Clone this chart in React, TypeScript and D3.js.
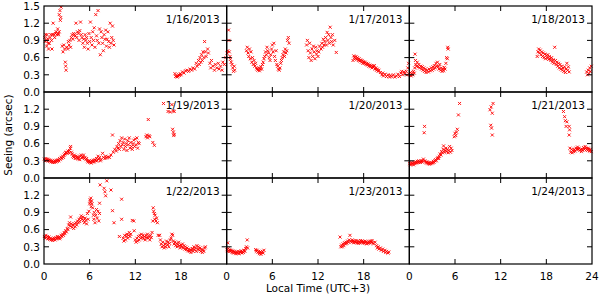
import React, { useEffect, useRef } from 'react';
import * as d3 from 'd3';

type Pt = [number, number];

// panel titles, in reading order
const dates = ['1/16/2013', '1/17/2013', '1/18/2013', '1/19/2013', '1/20/2013', '1/21/2013', '1/22/2013', '1/23/2013', '1/24/2013'];

// seeing [local hour, arcsec]
const jan16: Pt[] = [
  [0.1,0.95],[0.15,0.88],[0.2,1.0],[0.3,0.9],[0.35,0.8],[0.4,1.0],[0.5,0.93],[0.55,0.85],[0.6,0.75],[0.7,0.85],[0.8,0.95],[0.9,1.0],[1.0,0.9],[1.05,0.75],[1.1,1.0],[1.2,1.2],[1.3,1.0],[1.4,0.95],[1.5,1.02],[1.6,1.05],[1.7,1.0],[1.8,1.1],[1.85,1.02],[1.9,1.0],[2.0,1.05],[2.0,1.35],[2.1,1.42],[2.15,1.25],[2.2,1.3],[2.25,1.48],
  [2.4,0.8],[2.5,0.7],[2.6,0.82],[2.7,0.75],[2.8,0.52],[2.85,0.45],[2.9,0.38],[3.0,0.78],[3.1,0.75],
  [3.2,0.88],[3.3,0.82],[3.4,0.9],[3.5,0.78],[3.6,0.95],[3.7,1.0],[3.8,0.92],[3.9,1.02],[4.0,1.0],[4.1,0.98],[4.2,1.2],[4.3,0.95],[4.4,1.05],[4.5,1.02],[4.6,0.9],[4.7,1.07],[4.8,1.22],[4.9,1.0],[5.0,0.95],[5.1,0.85],[5.2,0.92],[5.3,0.78],[5.4,1.0],[5.5,0.9],[5.6,0.95],[5.7,0.85],
  [5.8,0.75],[5.9,1.02],[6.0,0.88],[6.1,1.22],[6.2,0.95],[6.3,0.82],[6.4,1.05],[6.5,0.9],[6.6,1.12],[6.7,0.78],[6.8,1.35],[6.9,0.98],[7.0,0.9],[7.1,1.42],[7.2,0.85],[7.3,1.1],[7.4,0.65],[7.5,1.05],[7.6,0.95],[7.7,0.85],[7.8,0.72],[7.9,1.0],[8.0,0.92],[8.1,1.08],[8.2,0.8],[8.3,0.92],[8.4,1.05],[8.5,0.88],[8.6,0.78],[8.7,1.2],[8.8,0.85],[8.9,0.95],[9.0,1.15],[9.1,0.9],[9.2,0.82],
  [17.2,0.32],[17.3,0.27],[17.4,0.28],[17.5,0.26],[17.6,0.28],[17.7,0.3],[17.8,0.29],[17.9,0.32],[18.0,0.3],[18.2,0.35],[18.4,0.33],[18.6,0.37],[18.8,0.38],[19.0,0.36],[19.2,0.4],[19.4,0.38],[19.6,0.42],[19.8,0.4],[20.0,0.5],[20.1,0.45],[20.3,0.55],[20.4,0.48],[20.5,0.6],[20.6,0.52],[20.7,0.65],[20.8,0.55],[20.9,0.7],[21.0,0.6],[21.1,0.88],[21.2,0.7],[21.3,0.62],[21.5,0.75],[21.6,0.68],[21.8,0.5],[21.9,0.42],[22.0,0.55],[22.2,0.45],[22.4,0.38],[22.5,0.48],[22.7,0.42],[22.9,0.5],[23.0,0.4],[23.2,0.45],[23.4,0.38],[23.5,0.52],[23.7,0.48],[23.9,0.6],
];

const jan17: Pt[] = [
  [0.05,0.68],[0.15,0.72],[0.25,1.08],[0.3,0.9],[0.35,0.7],[0.45,0.62],[0.5,0.57],[0.6,0.52],[0.7,0.48],[0.8,0.42],[0.9,0.36],[1.0,0.45],[1.05,0.38],
  [2.6,0.72],[2.7,0.78],[2.8,0.68],[2.9,0.62],[3.0,0.75],[3.1,0.58],[3.2,0.7],[3.3,0.52],[3.4,0.6],[3.5,0.48],[3.6,0.55],[3.7,0.45],[3.8,0.5],[3.9,0.42],[4.0,0.4],[4.1,0.38],[4.2,0.42],[4.3,0.37],[4.4,0.4],[4.5,0.44],[4.6,0.4],[4.7,0.48],[4.8,0.52],[4.9,0.58],
  [5.0,0.62],[5.1,0.7],[5.2,0.65],[5.3,0.78],[5.4,0.72],[5.5,0.68],[5.6,0.6],[5.7,0.55],[5.8,0.65],[5.9,0.75],[6.0,0.82],[6.1,0.7],[6.2,0.85],
  [6.3,0.62],[6.4,0.55],[6.5,0.72],[6.6,0.48],[6.7,0.45],[6.8,0.4],[6.9,0.38],[7.0,0.42],[7.1,0.5],[7.2,0.55],[7.3,0.6],
  [7.4,0.65],[7.5,0.7],[7.6,0.62],[7.7,0.75],[7.8,0.68],[7.9,0.72],[8.0,0.9],[8.1,0.95],[8.2,0.85],
  [10.5,0.82],[10.6,0.9],[10.7,0.72],[10.8,0.6],[10.9,0.85],[11.0,0.68],[11.1,0.55],[11.2,0.75],[11.3,0.62],[11.4,0.8],[11.5,0.7],[11.6,0.58],[11.7,0.78],[11.8,0.66],[11.9,0.72],[12.0,0.62],[12.1,0.7],[12.2,0.8],
  [12.4,0.75],[12.5,0.85],[12.6,0.78],[12.7,0.92],[12.8,0.82],[12.9,0.88],[13.0,0.95],[13.1,0.82],[13.2,1.04],[13.3,0.9],[13.4,1.0],[13.5,0.85],[13.6,1.13],[13.7,0.95],[13.8,0.88],[13.9,1.0],[14.0,0.82],[14.2,0.9],[14.4,0.69],
  [16.6,0.55],[16.7,0.63],[16.8,0.6],[16.9,0.58],[17.0,0.62],[17.1,0.57],[17.2,0.6],[17.3,0.55],[17.4,0.58],[17.5,0.54],[17.6,0.56],[17.7,0.52],[17.8,0.55],[17.9,0.5],[18.0,0.53],[18.1,0.5],[18.2,0.52],[18.3,0.48],[18.4,0.5],[18.5,0.47],[18.6,0.49],[18.7,0.45],[18.8,0.47],[18.9,0.44],[19.0,0.46],[19.1,0.42],[19.2,0.45],[19.3,0.43],[19.4,0.46],[19.5,0.4],[19.6,0.42],[19.7,0.38],[19.8,0.4],[19.9,0.36],[20.0,0.38],
  [20.2,0.34],[20.4,0.3],[20.5,0.33],[20.6,0.28],[20.8,0.31],[21.0,0.27],[21.2,0.3],[21.4,0.26],[21.5,0.29],[21.7,0.27],[21.9,0.3],[22.1,0.26],[22.3,0.28],[22.5,0.31],[22.7,0.27],[22.9,0.33],[23.0,0.36],[23.1,0.3],[23.3,0.35],[23.4,0.32],[23.6,0.36],[23.7,0.3],[23.8,0.42],[23.9,0.5],
];

const jan18: Pt[] = [
  [0.05,0.3],[0.15,0.34],[0.25,0.28],[0.35,0.32],[0.45,0.3],[0.55,0.36],[0.65,0.33],[0.7,0.42],[0.75,0.66],[0.8,0.55],[0.85,0.48],[0.95,0.45],[1.05,0.52],[1.15,0.44],[1.25,0.48],[1.35,0.42],[1.5,0.45],[1.6,0.4],[1.7,0.44],[1.8,0.38],[1.9,0.42],[2.0,0.36],[2.1,0.4],[2.2,0.34],[2.35,0.38],[2.5,0.35],[2.6,0.4],[2.75,0.37],[2.9,0.42],[3.0,0.38],[3.1,0.44],[3.2,0.4],[3.3,0.46],[3.4,0.42],[3.5,0.5],[3.6,0.45],[3.7,0.52],[3.8,0.44],[3.9,0.4],[4.0,0.48],[4.1,0.38],[4.2,0.42],[4.3,0.36],[4.4,0.4],[4.5,0.37],[4.6,0.43],[4.7,0.4],[4.8,0.5],[4.9,0.6],[5.0,0.58],[5.05,0.78],[5.1,0.75],
  [16.8,0.62],[16.9,0.7],[17.0,0.75],[17.1,0.68],[17.2,0.73],[17.3,0.65],[17.4,0.7],[17.5,0.62],[17.6,0.68],[17.7,0.6],[17.8,0.66],[17.9,0.58],[18.0,0.64],[18.1,0.6],[18.2,0.65],[18.3,0.57],[18.4,0.62],[18.5,0.58],[18.6,0.55],[18.7,0.6],[18.8,0.52],[18.9,0.56],[19.0,0.5],[19.1,0.78],[19.2,0.55],[19.3,0.48],[19.4,0.52],[19.5,0.45],[19.6,0.5],[19.7,0.42],[19.8,0.48],[19.9,0.4],[20.0,0.45],[20.1,0.38],[20.2,0.42],[20.3,0.36],[20.4,0.44],[20.5,0.34],[20.6,0.4],[20.7,0.5],[20.8,0.38],[20.9,0.44],[21.0,0.35],
  [23.3,0.35],[23.4,0.3],[23.5,0.38],[23.6,0.32],[23.7,0.42],[23.8,0.36],[23.9,0.45],
];

const jan19: Pt[] = [
  [0.05,0.33],[0.15,0.3],[0.25,0.34],[0.35,0.31],[0.45,0.33],[0.55,0.3],[0.65,0.32],[0.75,0.29],[0.85,0.31],[0.95,0.28],[1.05,0.3],[1.15,0.27],[1.25,0.29],[1.35,0.27],[1.45,0.3],[1.55,0.28],[1.65,0.31],[1.75,0.29],[1.85,0.32],[1.95,0.3],[2.05,0.34],[2.15,0.32],[2.25,0.36],[2.35,0.34],[2.45,0.38],[2.55,0.36],[2.65,0.4],[2.75,0.42],[2.85,0.44],[2.95,0.45],[3.05,0.43],[3.15,0.47],[3.25,0.44],[3.35,0.48],[3.45,0.52],[3.5,0.55],[3.6,0.45],[3.7,0.42],[3.8,0.38],[3.9,0.36],[4.0,0.4],[4.1,0.34],[4.2,0.38],[4.3,0.35],[4.4,0.37],[4.5,0.33],[4.6,0.36],[4.7,0.32],[4.8,0.38],[4.9,0.4],[5.0,0.35],[5.1,0.37],[5.2,0.4],[5.3,0.34],[5.4,0.36],[5.5,0.32],[5.6,0.34],[5.7,0.3],[5.8,0.28],[5.9,0.3],[6.0,0.27],[6.1,0.29],[6.2,0.26],[6.3,0.3],[6.4,0.28],[6.5,0.31],[6.6,0.28],[6.7,0.32],[6.8,0.3],[6.9,0.34],[7.0,0.3],[7.1,0.38],[7.2,0.33],[7.3,0.36],[7.4,0.3],[7.5,0.32],[7.7,0.43],[7.8,0.36],[8.0,0.34],[8.1,0.38],[8.2,0.35],[8.4,0.37],[8.6,0.36],[8.8,0.4],
  [9.0,0.75],[9.1,0.45],[9.3,0.5],[9.5,0.47],[9.6,0.55],[9.7,0.52],[9.8,0.6],[9.9,0.5],[10.0,0.65],[10.1,0.55],[10.2,0.7],[10.3,0.58],[10.4,0.62],[10.5,0.5],[10.6,0.68],[10.7,0.55],[10.8,0.6],[10.9,0.48],[11.0,0.65],[11.1,0.58],[11.2,0.7],[11.3,0.52],[11.4,0.62],[11.5,0.55],[11.6,0.5],[11.7,0.6],[11.8,0.66],[11.9,0.55],[12.0,0.68],[12.1,0.58],[12.2,0.7],[12.3,0.52],[12.4,0.62],[12.5,0.6],
  [13.4,0.72],[13.5,0.75],[13.6,0.7],[13.7,1.02],[13.8,0.74],[13.9,0.72],[14.3,0.62],[14.5,0.57],
  [15.7,1.3],[16.3,1.16],[16.6,1.15],[16.8,1.28],[17.0,1.17],[17.1,1.16],[16.9,0.85],[17.0,0.8],[17.1,0.76],[17.05,0.74],
];

const jan20: Pt[] = [];

const jan21: Pt[] = [
  [0.05,0.25],[0.15,0.23],[0.25,0.27],[0.35,0.24],[0.45,0.26],[0.55,0.23],[0.65,0.27],[0.75,0.25],[0.85,0.28],[0.95,0.26],[1.05,0.29],[1.15,0.27],[1.25,0.3],[1.35,0.28],[1.45,0.27],[1.55,0.3],[1.65,0.28],[1.75,0.3],[1.85,0.33],[1.95,0.79],[2.0,0.9],[2.05,0.3],[2.15,0.28],[2.25,0.26],[2.35,0.28],[2.45,0.25],[2.55,0.27],[2.65,0.24],[2.75,0.26],[2.85,0.25],[2.95,0.27],[3.05,0.26],[3.15,0.29],[3.25,0.27],[3.35,0.3],[3.45,0.32],[3.55,0.3],[3.65,0.34],[3.75,0.36],[3.85,0.34],[3.95,0.38],[4.05,0.42],[4.15,0.4],[4.25,0.46],[4.35,0.44],[4.45,0.5],[4.5,0.56],[4.6,0.45],[4.7,0.48],[4.8,0.52],[4.9,0.46],[5.0,0.5],[5.1,0.44],[5.2,0.48],[5.3,0.55],[5.4,0.45],[5.5,0.52],[5.6,0.48],
  [5.9,0.72],[6.0,0.78],[6.1,0.74],[6.2,0.8],[6.3,0.85],[6.45,1.1],[6.6,1.3],
  [10.6,1.19],[10.75,1.24],[11.0,1.3],[10.9,1.13],[10.7,0.92],[10.8,0.87],[10.9,0.75],
  [20.25,1.16],[20.4,1.07],[20.5,1.0],[20.7,0.98],[20.6,0.9],[21.0,0.9],[21.05,0.84],[21.0,0.75],
  [21.1,0.52],[21.2,0.45],[21.3,0.5],[21.4,0.44],[21.5,0.48],[21.6,0.46],[21.7,0.5],[21.8,0.47],[21.9,0.52],[22.0,0.5],[22.1,0.54],[22.2,0.5],[22.3,0.52],[22.4,0.48],[22.5,0.5],[22.6,0.46],[22.7,0.5],[22.8,0.48],[22.9,0.53],[23.0,0.5],[23.1,0.55],[23.2,0.52],[23.3,0.5],[23.4,0.48],[23.5,0.52],[23.6,0.5],[23.7,0.47],[23.8,0.5],[23.9,0.46],
];

const jan22: Pt[] = [
  [0.05,0.48],[0.15,0.45],[0.25,0.5],[0.35,0.46],[0.45,0.48],[0.55,0.44],[0.65,0.47],[0.75,0.43],[0.85,0.45],[0.95,0.42],[1.05,0.44],[1.15,0.41],[1.25,0.43],[1.35,0.45],[1.45,0.42],[1.55,0.46],[1.65,0.44],[1.75,0.48],[1.85,0.45],[1.95,0.47],[2.05,0.44],[2.15,0.46],[2.25,0.5],[2.35,0.48],[2.45,0.52],[2.55,0.5],[2.65,0.55],[2.75,0.53],[2.85,0.58],[2.95,0.56],[3.05,0.62],[3.15,0.6],[3.25,0.68],[3.35,0.72],[3.45,0.66],[3.5,0.82],[3.6,0.7],[3.7,0.64],[3.8,0.68],[3.9,0.62],[4.0,0.7],[4.1,0.65],[4.2,0.72],[4.3,0.68],[4.4,0.75],[4.5,0.72],[4.6,0.78],[4.7,0.74],[4.8,0.8],[4.9,0.84],[5.0,0.78],[5.1,0.82],[5.2,0.76],[5.3,0.72],[5.4,0.8],[5.5,0.76],[5.6,0.7],[5.7,0.88],[5.8,0.78],[5.9,0.92],
  [6.0,1.05],[6.05,1.12],[6.1,1.08],[6.15,1.15],[6.2,1.0],[6.25,1.1],[6.3,1.05],[6.4,0.98],[6.5,0.85],[6.55,0.78],[6.6,0.9],[6.7,0.72],[6.8,0.85],[6.9,0.95],[7.0,0.8],[7.1,0.92],[7.2,0.75],[7.3,1.06],[7.3,0.88],
  [7.37,1.38],[7.9,1.32],[8.0,1.26],[8.1,1.19],[8.25,1.45],[8.8,1.29],[9.0,0.93],[9.2,0.72],[9.9,0.48],[10.2,1.13],[10.2,0.78],
  [10.4,0.45],[10.5,0.4],[10.6,0.5],[10.7,0.42],[10.8,0.48],[10.9,0.52],[11.0,0.45],[11.1,0.5],[11.2,0.55],[11.3,0.48],[11.4,0.52],[11.6,0.76],[11.8,0.75],[11.85,0.58],
  [12.0,0.42],[12.1,0.38],[12.2,0.45],[12.3,0.4],[12.4,0.48],[12.5,0.42],[12.6,0.5],[12.7,0.45],[12.8,0.52],[12.9,0.46],[13.0,0.5],[13.1,0.44],[13.2,0.48],[13.3,0.42],[13.4,0.5],[13.5,0.46],[13.6,0.52],[13.7,0.45],[13.8,0.48],[13.9,0.42],[14.0,0.5],[14.1,0.46],[14.2,0.55],
  [14.3,0.75],[14.35,0.98],[14.4,0.92],[14.5,0.88],[14.55,0.78],[14.6,0.85],[14.7,0.75],[14.8,0.8],[14.9,0.72],[15.0,0.5],[15.2,0.5],
  [15.3,0.42],[15.4,0.35],[15.5,0.3],[15.6,0.38],[15.7,0.32],[15.8,0.28],[15.9,0.35],[16.0,0.3],[16.1,0.4],[16.2,0.34],[16.3,0.38],[16.4,0.3],[16.5,0.36],[16.6,0.42],[16.7,0.45],[16.8,0.52],[16.9,0.5],[17.0,0.4],[17.1,0.35],[17.2,0.38],[17.3,0.32],[17.4,0.36],[17.5,0.3],[17.6,0.34],[17.7,0.38],[17.8,0.32],[17.9,0.28],[18.0,0.33],[18.1,0.3],[18.2,0.35],[18.3,0.28],[18.4,0.32],[18.5,0.26],[18.6,0.3],[18.7,0.25],[18.8,0.28],[18.9,0.23],[19.0,0.26],[19.1,0.22],[19.2,0.25],[19.3,0.2],[19.4,0.24],[19.5,0.27],[19.6,0.22],[19.7,0.3],[19.8,0.25],[19.9,0.28],[20.0,0.22],[20.1,0.32],[20.2,0.26],[20.3,0.3],[20.4,0.24],[20.5,0.28],[20.6,0.22],[20.7,0.26],[20.8,0.2],[20.9,0.24],[21.0,0.22],[21.1,0.28],[21.2,0.3],
];

const jan23: Pt[] = [
  [0.05,0.25],[0.1,0.22],[0.15,0.37],[0.2,0.27],[0.3,0.23],[0.4,0.25],[0.5,0.22],[0.6,0.24],[0.7,0.2],[0.8,0.23],[0.9,0.19],[1.0,0.22],[1.1,0.2],[1.2,0.18],[1.3,0.21],[1.4,0.19],[1.5,0.22],[1.6,0.18],[1.7,0.21],[1.8,0.2],[1.9,0.23],[2.0,0.19],[2.1,0.22],[2.2,0.2],[2.3,0.24],[2.4,0.22],[2.5,0.27],[2.6,0.3],[2.7,0.42],[2.75,0.28],
  [3.8,0.25],[3.9,0.22],[4.0,0.24],[4.1,0.2],[4.2,0.22],[4.3,0.18],[4.4,0.21],[4.5,0.17],[4.6,0.2],[4.7,0.22],[4.8,0.19],[4.9,0.24],
  [14.9,0.47],[15.0,0.3],[15.1,0.33],[15.2,0.3],[15.3,0.35],[15.4,0.32],[15.5,0.37],[15.6,0.35],[15.7,0.38],[15.8,0.36],[15.9,0.4],[16.0,0.38],[16.1,0.42],[16.2,0.5],[16.3,0.4],[16.4,0.38],[16.5,0.42],[16.6,0.4],[16.7,0.37],[16.8,0.4],[16.9,0.38],[17.0,0.41],[17.1,0.37],[17.2,0.4],[17.3,0.36],[17.4,0.39],[17.5,0.37],[17.6,0.41],[17.7,0.38],[17.8,0.4],[17.9,0.37],[18.0,0.39],[18.1,0.36],[18.2,0.4],[18.3,0.38],[18.4,0.35],[18.5,0.38],[18.6,0.36],[18.7,0.39],[18.8,0.37],[18.9,0.4],[19.0,0.38],[19.1,0.41],[19.2,0.37],[19.3,0.35],[19.5,0.38],[19.7,0.32],[19.8,0.28],[19.9,0.3],[20.0,0.26],[20.2,0.28],[20.3,0.24],[20.5,0.26],[20.6,0.22],[20.8,0.24],[20.9,0.2],[21.0,0.22],[21.2,0.19],[21.3,0.21],
];

const jan24: Pt[] = [];

const days: Pt[][] = [jan16, jan17, jan18, jan19, jan20, jan21, jan22, jan23, jan24];

const xTicks = [0, 6, 12, 18, 24];
const yTicks = [0, 0.3, 0.6, 0.9, 1.2, 1.5];

const App = () => {
  const svgRef = useRef<SVGSVGElement>(null);

  useEffect(() => {
    const width = 600;
    const height = 297;
    const margin = { top: 6, right: 8, bottom: 33, left: 44 };
    const pw = (width - margin.left - margin.right) / 3;
    const ph = 86;
    const tick = 5;
    const font = 'DejaVu Sans, sans-serif';
    const fs = 10.5;

    const svg = d3.select(svgRef.current);
    svg.selectAll('*').remove();

    const x = d3.scaleLinear().domain([0, 24]).range([0, pw]);
    const y = d3.scaleLinear().domain([0, 1.5]).range([ph, 0]);
    const cross = 'M-1.5,-1.5L1.5,1.5M-1.5,1.5L1.5,-1.5';

    days.forEach((pts, i) => {
      const row = Math.floor(i / 3);
      const col = i % 3;
      const g = svg.append('g')
        .attr('transform', `translate(${margin.left + col * pw},${margin.top + row * ph})`);

      // points
      g.selectAll('.pt')
        .data(pts)
        .enter()
        .append('path')
        .attr('class', 'pt')
        .attr('transform', d => `translate(${x(d[0])},${y(d[1])})`)
        .attr('d', cross)
        .attr('fill', 'none')
        .attr('stroke', '#ff0000')
        .attr('stroke-width', 0.9);

      // frame
      g.append('rect')
        .attr('x', 0).attr('y', 0)
        .attr('width', pw).attr('height', ph)
        .attr('fill', 'none')
        .attr('stroke', '#000')
        .attr('stroke-width', 1.2);

      // inward ticks on all four sides
      xTicks.slice(1, -1).forEach(t => {
        g.append('line').attr('x1', x(t)).attr('x2', x(t)).attr('y1', 0).attr('y2', tick).attr('stroke', '#000');
        g.append('line').attr('x1', x(t)).attr('x2', x(t)).attr('y1', ph).attr('y2', ph - tick).attr('stroke', '#000');
      });
      yTicks.slice(1, -1).forEach(t => {
        g.append('line').attr('x1', 0).attr('x2', tick).attr('y1', y(t)).attr('y2', y(t)).attr('stroke', '#000');
        g.append('line').attr('x1', pw).attr('x2', pw - tick).attr('y1', y(t)).attr('y2', y(t)).attr('stroke', '#000');
      });

      // date
      g.append('text')
        .attr('x', pw - 7)
        .attr('y', 16.5)
        .attr('text-anchor', 'end')
        .attr('font-family', font)
        .attr('font-size', fs)
        .text(dates[i]);

      if (col === 0) {
        g.selectAll('.ylab')
          .data(row === 0 ? yTicks : yTicks.slice(0, -1))
          .enter()
          .append('text')
          .attr('x', -4)
          .attr('y', d => y(d))
          .attr('dy', '0.36em')
          .attr('text-anchor', 'end')
          .attr('font-family', font)
          .attr('font-size', fs)
          .text(d => d3.format('.1f')(d));
      }

      if (row === 2) {
        g.selectAll('.xlab')
          .data(col === 2 ? xTicks : xTicks.slice(0, -1))
          .enter()
          .append('text')
          .attr('x', d => x(d))
          .attr('y', ph + 16)
          .attr('text-anchor', 'middle')
          .attr('font-family', font)
          .attr('font-size', fs)
          .text(d => String(d));
      }
    });

    // axis titles
    svg.append('text')
      .attr('x', margin.left + pw * 1.5)
      .attr('y', margin.top + 3 * ph + 28)
      .attr('text-anchor', 'middle')
      .attr('font-family', font)
      .attr('font-size', fs)
      .text('Local Time (UTC+3)');

    svg.append('text')
      .attr('transform', `translate(12,${margin.top + 1.5 * ph}) rotate(-90)`)
      .attr('text-anchor', 'middle')
      .attr('font-family', font)
      .attr('font-size', fs)
      .text('Seeing (arcsec)');
  }, []);

  return (
    <svg ref={svgRef} width={600} height={297}
      style={{ position: 'absolute', left: 0, top: 0, background: '#fff' }} />
  );
};

export default App;
